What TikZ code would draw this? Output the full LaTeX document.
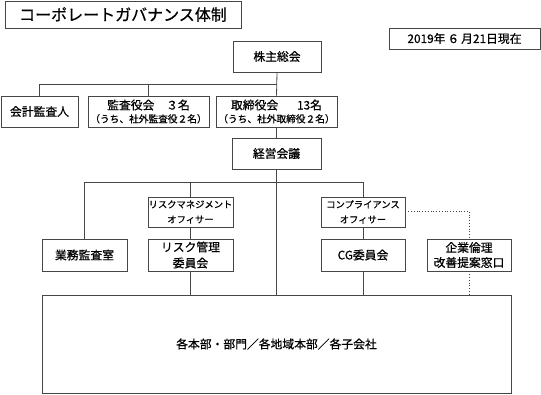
\documentclass[tikz,border=0pt]{standalone}
\usepackage{fontspec}
\setmainfont{Noto Sans CJK JP}[FakeBold=0.7]
\definecolor{linecol}{RGB}{70,70,70}
\tikzset{
  box/.style={draw=linecol, line width=0.8pt, inner sep=0pt, align=center,
    font=\fontsize{11.8}{15}\selectfont, text=black},
  small/.style={font=\fontsize{9.3}{15}\selectfont},
  conn/.style={draw=linecol, line width=0.8pt},
  dotconn/.style={draw=linecol, line width=0.8pt, dotted}
}
\begin{document}
\begin{tikzpicture}[x=1pt,y=-1pt]
\useasboundingbox (0,0) rectangle (541,394);
% title and date
\node[box, minimum width=236pt, minimum height=27pt, font=\fontsize{16}{18}\selectfont] (title) at (123,14.5) {コーポレートガバナンス体制};
\node[box, minimum width=151pt, minimum height=21pt] (date) at (464.5,38.5) {2019年\,６\,月21日現在};
% top
\node[box, minimum width=88pt, minimum height=31pt] (kabu) at (277,56.5) {株主総会};
\node[box, minimum width=77pt, minimum height=31pt] (kaikei) at (39.5,111.5) {会計監査人};
\node[box, minimum width=121pt, minimum height=31pt, font=\fontsize{11.8}{13}\selectfont] (kansa) at (148.5,111.5) {監査役会　３名\\{\fontsize{9.7}{13}\selectfont （うち、社外監査役２名）}};
\node[box, minimum width=121pt, minimum height=31pt, font=\fontsize{11.8}{13}\selectfont] (tori) at (276.5,111.5) {取締役会\hspace{1.6em}13名\\{\fontsize{9.7}{13}\selectfont （うち、社外取締役２名）}};
\node[box, minimum width=89pt, minimum height=31pt] (keiei) at (276.5,153.5) {経営会議};
% middle
\node[box, minimum width=85pt, minimum height=32pt] (gyomu) at (84.5,255) {業務監査室};
\node[box, small, minimum width=85pt, minimum height=30pt] (riskoff) at (190.5,212) {リスクマネジメント\\オフィサー};
\node[box, minimum width=85pt, minimum height=32pt, font=\fontsize{11.8}{16}\selectfont] (riskcom) at (190.5,255) {リスク管理\\委員会};
\node[box, small, minimum width=84pt, minimum height=30pt] (compoff) at (363,212) {コンプライアンス\\オフィサー};
\node[box, minimum width=84pt, minimum height=32pt] (cg) at (363,255) {CG委員会};
\node[box, minimum width=84pt, minimum height=32pt] (rinri) at (469,255) {企業倫理\\改善提案窓口};
% bottom
\node[box, minimum width=469pt, minimum height=98pt] (bottom) at (276.5,344) {各本部・部門／各地域本部／各子会社};
% connector helpers
\coordinate (h1) at (0,84);
\coordinate (h2) at (0,182);
\coordinate (hd) at (0,211);
% connectors
\draw[conn] (kabu.south) -- (tori.north);
\draw[conn] (kaikei.north) |- (kabu.south |- h1);
\draw[conn] (kansa.north) -- (kansa.north |- h1);
\draw[conn] (tori.south) -- (keiei.north);
\draw[conn] (keiei.south) -- (keiei.south |- bottom.north);
\draw[conn] (gyomu.north) |- (compoff.north |- h2) -- (compoff.north);
\draw[conn] (riskoff.north) -- (riskoff.north |- h2);
\draw[conn] (riskoff.south) -- (riskcom.north);
\draw[conn] (riskcom.south) -- (riskcom.south |- bottom.north);
\draw[conn] (compoff.south) -- (cg.north);
\draw[conn] (cg.south) -- (cg.south |- bottom.north);
\draw[dotconn] (compoff.east |- hd) -| (rinri.north);
\draw[dotconn] (rinri.south) -- (rinri.south |- bottom.north);
\end{tikzpicture}
\end{document}
